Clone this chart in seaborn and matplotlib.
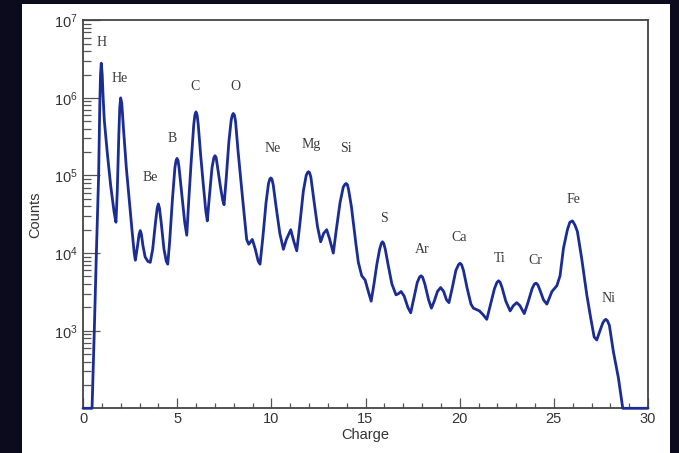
import matplotlib
matplotlib.use("Agg")
import matplotlib.pyplot as plt
import matplotlib.ticker as mticker
from matplotlib.patches import Rectangle
import seaborn as sns

# Charge spectrum
charge = [0.0, 0.48, 0.6, 0.71, 0.83, 0.89, 0.93, 0.97, 1.02, 1.07, 1.13, 1.29, 1.47, 1.65, 1.75,
          1.82, 1.9, 1.95, 2.0, 2.06, 2.15, 2.3, 2.45, 2.6, 2.72, 2.78, 2.9, 2.98, 3.04, 3.1, 3.18, 3.3,
          3.45, 3.57, 3.7, 3.85, 3.94, 4.0, 4.06, 4.15, 4.3, 4.42, 4.5, 4.6, 4.75, 4.88, 4.94, 4.99, 5.05, 5.1, 5.25,
          5.4, 5.51, 5.62, 5.75, 5.88, 5.94, 6.0, 6.06, 6.12, 6.25, 6.4, 6.52, 6.6, 6.7, 6.85, 6.95, 7.01, 7.07, 7.15,
          7.3, 7.42, 7.49, 7.6, 7.75, 7.87, 7.93, 7.98, 8.04, 8.1, 8.23, 8.48, 8.69, 8.8, 8.99, 9.15, 9.3,
          9.4, 9.55, 9.72, 9.85, 9.92, 9.97, 10.03, 10.1, 10.25, 10.45, 10.64, 10.8, 11.03, 11.2, 11.35, 11.5,
          11.7, 11.85, 11.92, 11.97, 12.03, 12.1, 12.25, 12.45, 12.62, 12.78, 12.94, 13.1, 13.29, 13.45, 13.65,
          13.82, 13.91, 13.97, 14.04, 14.1, 14.25, 14.35, 14.5, 14.62, 14.8, 14.98, 15.15, 15.3, 15.45, 15.6,
          15.75, 15.84, 15.9, 15.97, 16.05, 16.2, 16.4, 16.62, 16.75, 16.89, 17.05, 17.25, 17.4, 17.55, 17.75,
          17.87, 17.95, 18.03, 18.15, 18.35, 18.5, 18.65, 18.82, 18.99, 19.15, 19.3, 19.43, 19.6, 19.8, 19.94, 20.02,
          20.1, 20.2, 20.4, 20.6, 20.73, 21.05, 21.25, 21.44, 21.6, 21.85, 21.98, 22.07, 22.15, 22.25, 22.45, 22.68,
          22.85, 23.03, 23.2, 23.43, 23.6, 23.85, 23.97, 24.06, 24.15, 24.25, 24.45, 24.63, 24.9, 25.16, 25.33,
          25.51, 25.72, 25.85, 25.99, 26.12, 26.25, 26.48, 26.75, 26.96, 27.14, 27.28, 27.45,
          27.6, 27.7, 27.76, 27.84, 27.95, 28.16, 28.43, 28.66, 30.0]
counts = [100, 100, 1.0e3, 1.0e4, 1.0e5, 7.9e5, 2.0e6, 2.8e6, 2.0e6, 1.0e6, 5.2e5, 1.95e5, 7.4e4, 3.4e4, 2.5e4,
          6.3e4, 3.2e5, 7.4e5, 1.0e6, 8.5e5, 4.0e5, 1.26e5, 5.0e4, 2.0e4, 1.0e4, 8.1e3, 1.26e4, 1.75e4, 1.95e4, 1.75e4, 1.26e4, 8.9e3,
          7.8e3, 7.6e3, 1.12e4, 2.5e4, 3.8e4, 4.3e4, 3.8e4, 2.5e4, 1.12e4, 7.9e3, 7.2e3, 1.4e4, 5.0e4, 1.26e5, 1.55e5, 1.66e5, 1.55e5, 1.26e5, 5.6e4,
          2.5e4, 1.7e4, 5.0e4, 1.58e5, 4.5e5, 6.0e5, 6.6e5, 6.0e5, 4.5e5, 1.8e5, 7.1e4, 3.5e4, 2.6e4, 5.0e4, 1.26e5, 1.7e5, 1.8e5, 1.7e5, 1.26e5,
          7.1e4, 4.8e4, 4.2e4, 8.9e4, 2.8e5, 5.2e5, 6.0e5, 6.3e5, 6.0e5, 5.0e5, 2.1e5, 4.9e4, 1.5e4, 1.3e4, 1.5e4, 1.12e4, 7.9e3,
          7.2e3, 1.6e4, 4.5e4, 7.9e4, 9.0e4, 9.3e4, 9.0e4, 7.6e4, 4.0e4, 1.8e4, 1.12e4, 1.5e4, 2.0e4, 1.4e4, 1.07e4, 2.2e4,
          6.3e4, 1.0e5, 1.09e5, 1.12e5, 1.09e5, 9.5e4, 5.0e4, 2.2e4, 1.4e4, 1.8e4, 2.0e4, 1.5e4, 1.0e4, 2.0e4, 4.5e4,
          7.1e4, 7.7e4, 7.9e4, 7.6e4, 6.6e4, 4.0e4, 2.5e4, 1.26e4, 7.6e3, 5.1e3, 4.5e3, 3.2e3, 2.4e3, 4.0e3, 7.1e3,
          1.12e4, 1.33e4, 1.4e4, 1.33e4, 1.12e4, 7.1e3, 4.0e3, 2.9e3, 3.0e3, 3.2e3, 2.8e3, 2.0e3, 1.7e3, 2.5e3, 4.2e3,
          4.9e3, 5.1e3, 4.9e3, 4.0e3, 2.5e3, 1.95e3, 2.4e3, 3.2e3, 3.6e3, 3.2e3, 2.5e3, 2.3e3, 3.5e3, 6.0e3, 7.1e3, 7.4e3,
          7.1e3, 6.0e3, 3.5e3, 2.2e3, 1.95e3, 1.8e3, 1.6e3, 1.4e3, 2.0e3, 3.5e3, 4.2e3, 4.4e3, 4.2e3, 3.6e3, 2.4e3, 1.8e3,
          2.1e3, 2.3e3, 2.1e3, 1.66e3, 2.2e3, 3.5e3, 4.0e3, 4.1e3, 3.9e3, 3.4e3, 2.5e3, 2.2e3, 3.2e3, 3.8e3, 5.1e3,
          1.15e4, 2.0e4, 2.5e4, 2.6e4, 2.3e4, 1.9e4, 8.5e3, 2.9e3, 1.45e3, 830, 760, 1.0e3,
          1.26e3, 1.37e3, 1.4e3, 1.35e3, 1.17e3, 540, 245, 100, 100]

# Element labels
elements = ['H', 'He', 'Be', 'B', 'C', 'O', 'Ne', 'Mg', 'Si', 'S', 'Ar', 'Ca', 'Ti', 'Cr', 'Fe', 'Ni']
label_x = [0.99, 1.93, 3.56, 4.71, 5.95, 8.07, 10.07, 12.11, 13.97, 15.98, 18.02, 19.98, 22.15, 24.0, 26.04, 27.9]
label_y = [5.1e6, 1.8e6, 9.3e4, 3.0e5, 1.4e6, 1.4e6, 2.2e5, 2.5e5, 2.2e5, 2.8e4, 1.1e4, 1.6e4, 8.5e3, 8.1e3, 4.9e4, 2.6e3]

sns.set_style('ticks')
plt.rcParams['font.family'] = ['Liberation Sans', 'DejaVu Sans']

fig = plt.figure(figsize=(6.79, 4.53), dpi=100, facecolor='#0c0b1e')
# white card behind the plot
fig.patches.append(Rectangle((22 / 679, 0), (670 - 22) / 679, (453 - 4) / 453,
                             transform=fig.transFigure, facecolor='white', edgecolor='none', zorder=-5))
ax = fig.add_axes([83 / 679, (453 - 408.3) / 453, (648 - 83) / 679, (408.3 - 20.3) / 453])
ax.set_facecolor('white')

sns.lineplot(x=charge, y=counts, ax=ax, color='#1b2c94', linewidth=2.0, estimator=None, sort=False,
             zorder=3, clip_on=False)

ax.set_yscale('log')
ax.set_xlim(0, 30)
ax.set_ylim(1e2, 1e7)

ax.xaxis.set_major_locator(mticker.MultipleLocator(5))
ax.xaxis.set_minor_locator(mticker.MultipleLocator(1))
ax.set_yticks([1e3, 1e4, 1e5, 1e6, 1e7])
ax.yaxis.set_major_formatter(mticker.LogFormatterMathtext())
ax.yaxis.set_minor_locator(mticker.LogLocator(base=10, subs=range(2, 10), numticks=20))
ax.yaxis.set_minor_formatter(mticker.NullFormatter())

ax.tick_params(axis='x', which='major', direction='in', length=7, width=0.9, color='#555555',
               labelsize=10.5, labelcolor='#333333', pad=3)
ax.tick_params(axis='x', which='minor', direction='in', length=3.5, width=0.9, color='#555555')
ax.tick_params(axis='y', which='major', direction='in', length=12, width=0.9, color='#555555',
               labelsize=10.5, labelcolor='#333333', pad=4)
ax.tick_params(axis='y', which='minor', direction='in', length=6, width=0.9, color='#555555')

for side in ['top', 'right', 'left', 'bottom']:
    ax.spines[side].set_visible(True)
    ax.spines[side].set_color('#444444')
    ax.spines[side].set_linewidth(1.3)

ax.set_xlabel('Charge', fontsize=10.5, color='#333333', labelpad=1)
ax.set_ylabel('Counts', fontsize=10.5, color='#333333', labelpad=8)

for name, lx, ly in zip(elements, label_x, label_y):
    ax.text(lx, ly, name, ha='center', va='center', fontsize=10,
            family=['Liberation Serif', 'DejaVu Serif'], color='#3a3a3a')

fig.savefig('out.png', dpi=100, facecolor=fig.get_facecolor())
